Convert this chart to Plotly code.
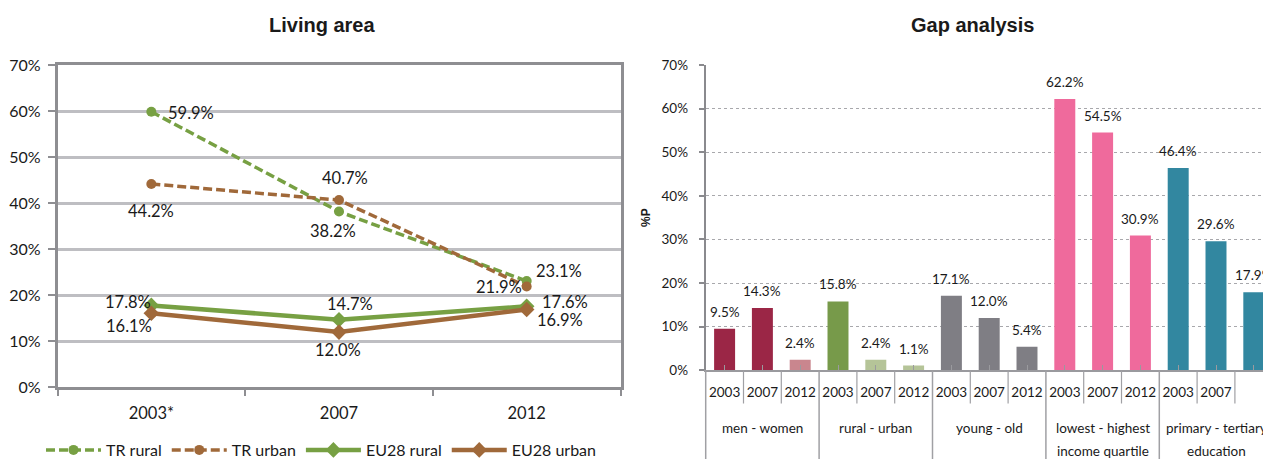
import plotly.graph_objects as go

# ---------------- data ----------------
years_left = ["2003*", "2007", "2012"]
tr_rural = [59.9, 38.2, 23.1]
tr_urban = [44.2, 40.7, 21.9]
eu28_rural = [17.8, 14.7, 17.6]
eu28_urban = [16.1, 12.0, 16.9]

gap_years = ["2003", "2007", "2012"]
gap_groups = [["men - women"], ["rural - urban"], ["young - old"],
              ["lowest - highest", "income quartile"],
              ["primary - tertiary", "education"]]
men_women = [9.5, 14.3, 2.4]
rural_urban = [15.8, 2.4, 1.1]
young_old = [17.1, 12.0, 5.4]
income_quartile = [62.2, 54.5, 30.9]
education = [46.4, 29.6, 17.9]

# ---------------- styles ----------------
W, H = 1263, 459
FONT = "Lato, 'Liberation Sans', Arial, sans-serif"
TFONT = "'Liberation Sans', Arial, sans-serif"
TXT = "#1a1a1a"
GREEN = "#77A043"
BROWN = "#A0693A"
AXIS = "#8E8E92"

def px_x(p):
    return p / W

def px_y(p):
    return (H - p) / H

fig = go.Figure()

# ---------------- left: Living area ----------------
line_series = [
    ("TR rural", tr_rural, GREEN, "9px,4px", "circle", 3.5, 10,
     [(40, 1), (-6, 19), (32, -10)]),
    ("TR urban", tr_urban, BROWN, "9px,4px", "circle", 3.5, 10,
     [(0, 27), (6, -22), (-28, 0)]),
    ("EU28 rural", eu28_rural, GREEN, "solid", "diamond", 4.5, 12,
     [(-23, -3), (11, -16), (38, -4)]),
    ("EU28 urban", eu28_urban, BROWN, "solid", "diamond", 4.5, 12,
     [(-22, 13), (-1, 18), (33, 10)]),
]

annotations = []
for name, vals, col, dash, sym, lw, ms, offs in line_series:
    fig.add_trace(go.Scatter(
        x=years_left, y=vals, name=name, mode="lines+markers",
        line=dict(color=col, width=lw, dash=dash),
        marker=dict(symbol=sym, size=ms, color=col),
        xaxis="x", yaxis="y"))
    for ci, (yv, (dx, dy)) in enumerate(zip(vals, offs)):
        annotations.append(dict(
            x=ci, y=yv, xref="x", yref="y", text=f"{yv:.1f}%",
            showarrow=False, xshift=dx, yshift=-dy,
            xanchor="center", yanchor="middle",
            font=dict(family=FONT, size=16.5, color=TXT)))

# ---------------- right: Gap analysis ----------------
gap_values = [men_women, rural_urban, young_old, income_quartile, education]
gap_colors = [["#9B2646", "#9B2646", "#C9868E"],
              ["#779A4A", "#B5C498", "#B5C498"],
              ["#7F7E84", "#7F7E84", "#7F7E84"],
              ["#EF6A9C", "#EF6A9C", "#EF6A9C"],
              ["#3287A0", "#3287A0", "#3287A0"]]

n_years = len(gap_years)
tick_pos = []
tick_txt = []
for g, (vals, cols) in enumerate(zip(gap_values, gap_colors)):
    xs = [g * n_years + j for j in range(n_years)]
    tick_pos += xs
    tick_txt += gap_years
    fig.add_trace(go.Bar(
        x=xs, y=vals, marker=dict(color=cols, line=dict(width=0)),
        width=0.555, showlegend=False, xaxis="x2", yaxis="y2"))
    for xv, yv in zip(xs, vals):
        annotations.append(dict(
            x=xv, y=yv, xref="x2", yref="y2", text=f"{yv:.1f}%",
            showarrow=False, xanchor="center", yanchor="bottom", yshift=7,
            font=dict(family=FONT, size=13.5, color=TXT)))
    # group labels
    for li, line in enumerate(gap_groups[g]):
        annotations.append(dict(
            x=g * n_years + (n_years - 1) / 2, y=px_y(427.5 + li * 23),
            xref="x2", yref="paper", text=line, showarrow=False,
            xanchor="center", yanchor="middle",
            font=dict(family=FONT, size=13.5, color=TXT)))

shapes = []
n_total = len(tick_pos)
for k in range(1, n_total):
    bound = k - 0.5
    is_group = (k % n_years == 0)
    shapes.append(dict(
        type="line", xref="x2", yref="paper",
        x0=bound, x1=bound, y0=px_y(370.5), y1=px_y(459 if is_group else 403.5),
        line=dict(color="#A0A0A4", width=1.5 if is_group else 1.2)))
# y-axis line continued below the axis
shapes.append(dict(type="line", xref="x2 domain", yref="paper",
                   x0=0, x1=0, y0=px_y(370.5), y1=0,
                   line=dict(color="#A0A0A4", width=1.5)))

# titles
annotations.append(dict(x=px_x(322), y=px_y(25), xref="paper", yref="paper",
                        text="<b>Living area</b>", showarrow=False,
                        xanchor="center", yanchor="middle",
                        font=dict(family=TFONT, size=20, color="#1a1a1a")))
annotations.append(dict(x=px_x(972), y=px_y(25), xref="paper", yref="paper",
                        text="<b>Gap analysis</b>", showarrow=False,
                        xanchor="center", yanchor="middle",
                        font=dict(family=TFONT, size=20, color="#1a1a1a")))

cat_w = 37.8
right_left = 705.7
right_len = W - right_left
right_max = -0.5 + right_len / cat_w

fig.update_layout(
    width=W, height=H, autosize=False,
    margin=dict(l=0, r=0, t=0, b=0, pad=0, autoexpand=False),
    paper_bgcolor="white", plot_bgcolor="white",
    font=dict(family=FONT, color=TXT),
    showlegend=True,
    legend=dict(orientation="h", x=px_x(321), xanchor="center",
                y=px_y(450), yanchor="middle",
                font=dict(family=FONT, size=16, color=TXT),
                bgcolor="rgba(0,0,0,0)", traceorder="normal",
                itemwidth=55, tracegroupgap=0),
    xaxis=dict(domain=[px_x(57.5), px_x(620.5)], anchor="y",
               type="category", range=[-0.5, 2.5],
               tickson="boundaries", ticks="outside", ticklen=6,
               tickcolor=AXIS, tickwidth=2,
               showline=True, linecolor=AXIS, linewidth=2.5, mirror=True,
               showgrid=False, ticklabelstandoff=9,
               tickfont=dict(family=FONT, size=16.5, color=TXT),
               fixedrange=True),
    yaxis=dict(domain=[px_y(387.3), px_y(65.3)], anchor="x",
               range=[0, 70], dtick=10, ticksuffix="%",
               ticks="outside", ticklen=7, tickcolor=AXIS, tickwidth=2,
               showline=True, linecolor=AXIS, linewidth=2.5, mirror=True,
               showgrid=True, gridcolor="#BEBEC2", gridwidth=2.5,
               zeroline=False, ticklabelstandoff=4,
               tickfont=dict(family=FONT, size=16, color=TXT),
               fixedrange=True),
    xaxis2=dict(domain=[px_x(right_left), 1.0], anchor="y2",
                range=[-0.5, right_max],
                tickvals=tick_pos, ticktext=tick_txt,
                ticks="inside", ticklen=5, tickcolor="#9A9A9E", tickwidth=1,
                showline=True, linecolor="#9A9A9E", linewidth=2,
                showgrid=False, zeroline=False, ticklabelstandoff=8,
                tickfont=dict(family=FONT, size=13.5, color=TXT),
                fixedrange=True),
    yaxis2=dict(domain=[px_y(370.3), px_y(65)], anchor="x2",
                range=[0, 70], dtick=10, ticksuffix="%",
                ticks="outside", ticklen=5, tickcolor="#8A8A8E", tickwidth=1.5,
                showline=True, linecolor="#8A8A8E", linewidth=2,
                showgrid=True, gridcolor="#A8A8AC", gridwidth=1,
                griddash="dot", zeroline=False, ticklabelstandoff=8,
                tickfont=dict(family=FONT, size=13.5, color=TXT),
                title=dict(text="<b>%P</b>", standoff=8,
                           font=dict(family=TFONT, size=12, color=TXT)),
                fixedrange=True),
    bargap=0.45,
    annotations=annotations,
    shapes=shapes,
)

fig.write_html("out.html", config={"displayModeBar": False},
               post_script="document.body.style.margin='0';document.body.style.padding='0';")
